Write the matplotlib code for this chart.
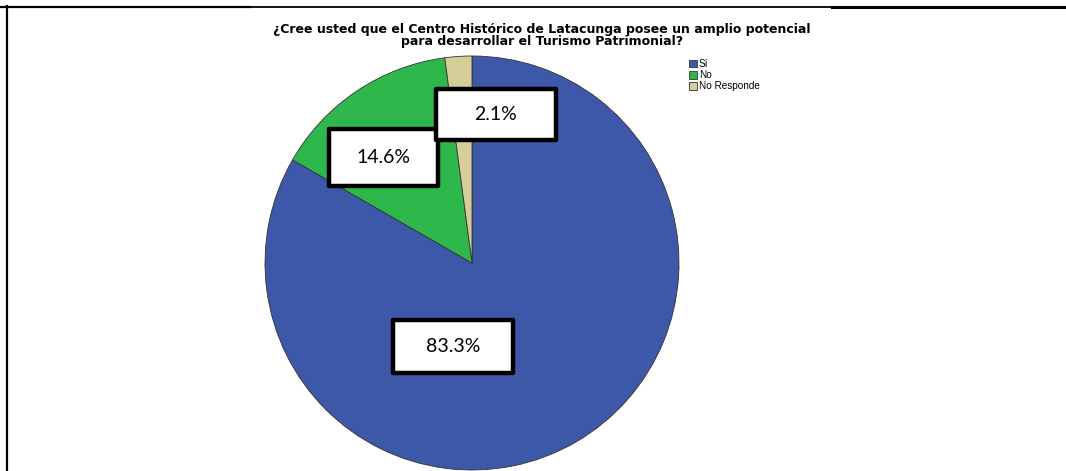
import numpy as np
import matplotlib.pyplot as plt
from matplotlib.patches import Rectangle, Patch
from matplotlib.lines import Line2D

# data
categorias = ['Sí', 'No', 'No Responde']
porcentajes = [83.3, 14.6, 2.1]
etiquetas = ['83.3%', '14.6%', '2.1%']
colores = ['#3d58a8', '#2eb84b', '#d4cf98']
titulo = ('¿Cree usted que el Centro Histórico de Latacunga posee un amplio potencial\n'
          'para desarrollar el Turismo Patrimonial?')

W, H = 1066, 471
fig = plt.figure(figsize=(W / 100, H / 100), dpi=100)

# pie center / radius in pixels
cx, cy, r = 472, 263, 207
ax = fig.add_axes([(cx - r) / W, (H - cy - r) / H, 2 * r / W, 2 * r / H])
ax.pie(porcentajes, colors=colores, startangle=90, counterclock=False,
       radius=1, wedgeprops=dict(edgecolor='#333333', linewidth=0.6))
ax.set_xlim(-1, 1)
ax.set_ylim(-1, 1)
ax.set_aspect('equal')
ax.axis('off')

# label boxes (pixel boxes: left, top, right, bottom)
cajas = [(393, 320, 513, 373), (329, 129, 438, 186), (436, 89, 556, 140)]
for txt, (x0, y0, x1, y1) in zip(etiquetas, cajas):
    dx0, dx1 = (x0 - cx) / r, (x1 - cx) / r
    dy0, dy1 = (cy - y1) / r, (cy - y0) / r
    ax.add_patch(Rectangle((dx0, dy0), dx1 - dx0, dy1 - dy0, facecolor='white',
                           edgecolor='black', linewidth=3.2, clip_on=False,
                           joinstyle='round', zorder=5))
    ax.text((dx0 + dx1) / 2, (dy0 + dy1) / 2, txt, ha='center', va='center',
            fontsize=14, family='Lato', zorder=6)

# title
fig.text(542 / W, 1 - 23 / H, titulo, ha='center', va='top', fontsize=9,
         fontweight='bold', family='DejaVu Sans', linespacing=0.92)

# legend
handles = [Patch(facecolor=c, edgecolor='#333333', linewidth=0.6) for c in colores]
fig.legend(handles, categorias, loc='upper left', bbox_to_anchor=(689 / W, 1 - 59 / H),
           frameon=False, prop=dict(family='Liberation Sans', size=7.2),
           handlelength=0.8, handleheight=0.8, handletextpad=0.2,
           labelspacing=0.12, borderpad=0, borderaxespad=0)

# frame lines of the page
fig.add_artist(Line2D([0, 1], [1 - 7 / H, 1 - 7 / H], color='black', lw=1.3,
                      transform=fig.transFigure))
fig.add_artist(Line2D([0, 250 / W], [1 - 7 / H, 1 - 7 / H], color='black', lw=1.6,
                      transform=fig.transFigure))
fig.add_artist(Line2D([832 / W, 1], [1 - 7 / H, 1 - 7 / H], color='black', lw=2.2,
                      transform=fig.transFigure))
fig.add_artist(Line2D([7 / W, 7 / W], [0, 1 - 6 / H], color='black', lw=1.6,
                      transform=fig.transFigure))

fig.savefig('out.png', dpi=100)
